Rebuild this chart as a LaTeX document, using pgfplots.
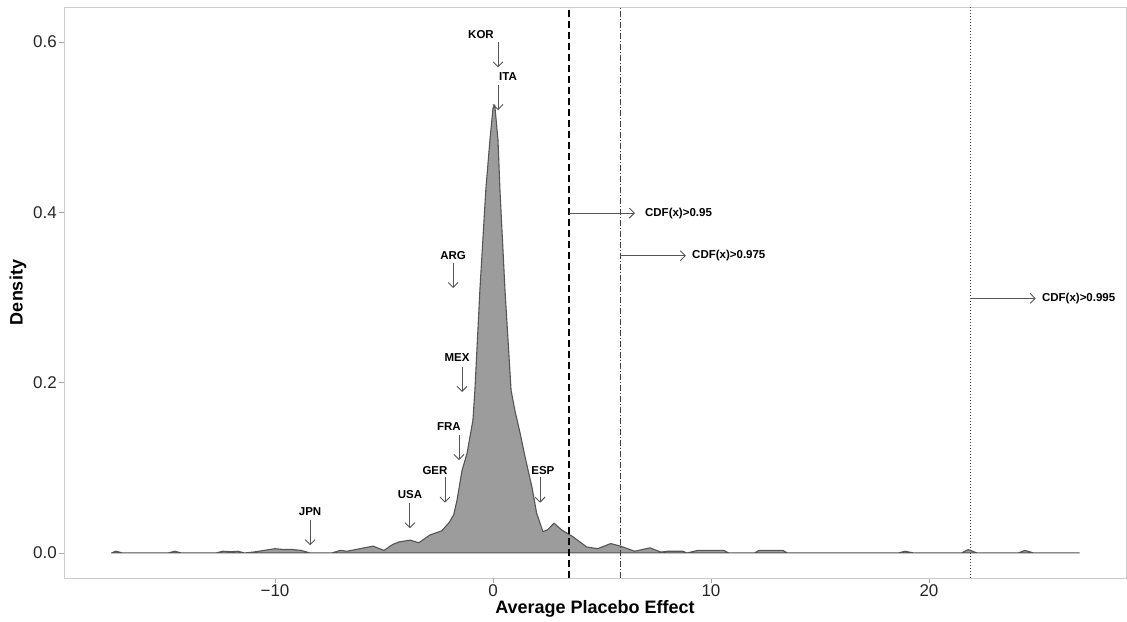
\documentclass[border=0pt]{standalone}
\usepackage{fontspec}
\setmainfont{Liberation Sans}
\usepackage{pgfplots}
\pgfplotsset{compat=1.18}
\usetikzlibrary{arrows.meta}
\definecolor{fillgray}{HTML}{9C9C9C}
\definecolor{linegray}{HTML}{555555}
\definecolor{framegray}{HTML}{CCCCCC}
\begin{document}
\begin{tikzpicture}
\begin{axis}[
  scale only axis, width=1062pt, height=571pt,
  xmin=-19.68, xmax=29.04, ymin=-0.0294, ymax=0.641,
  axis line style={draw=framegray, line width=0.8pt},
  xtick={-10,10,20}, xticklabels={{−10},{10},{20}},
  extra x ticks={0}, extra x tick labels={{0}},
  ytick={0,0.2,0.4,0.6}, yticklabels={{0.0},{0.2},{0.4},{0.6}},
  xtick pos=left, ytick pos=left,
  tick align=outside, major tick length=5pt,
  tick style={draw=black!35, line width=0.8pt},
  ticklabel style={font=\fontsize{17}{17}\selectfont, text=black!85, inner sep=0pt},
  xticklabel style={anchor=base, yshift=-14pt},
  yticklabel style={anchor=east, xshift=-2pt},
  extra x tick style={tick style={draw=black!35, line width=0.8pt}},
  xlabel={Average Placebo Effect}, ylabel={Density},
  label style={font=\fontsize{18}{18}\selectfont\bfseries, inner sep=0pt},
  xlabel style={at={(axis description cs:0.5,0)}, anchor=base, yshift=-36pt},
  ylabel style={at={(axis description cs:0,0.5)}, anchor=center, rotate=0, yshift=46pt},
  clip=false,
]
% density
\addplot[fill=fillgray, draw=linegray, line width=1.1pt, line join=round] coordinates {
(-17.5,0) (-17.3,0.002) (-17.0,0) (-14.9,0) (-14.6,0.002) (-14.3,0) (-12.7,0) (-12.4,0.002) (-12.0,0.0015) (-11.7,0.002) (-11.4,0) (-11.0,0.001) (-10.5,0.003) (-10.0,0.005) (-9.6,0.004) (-9.2,0.004) (-8.8,0.003) (-8.4,0) (-7.4,0) (-7.0,0.003) (-6.7,0.002) (-6.3,0.004) (-5.9,0.006) (-5.5,0.008) (-5.0,0.003) (-4.6,0.010) (-4.3,0.013) (-3.8,0.015) (-3.4,0.012) (-2.9,0.021) (-2.35,0.026) (-2.0,0.036) (-1.8,0.045) (-1.65,0.062) (-1.42,0.097) (-1.19,0.117) (-0.92,0.156) (-0.83,0.191) (-0.6,0.309) (-0.33,0.426) (-0.14,0.485) (0.0,0.522) (0.08,0.526) (0.23,0.485) (0.32,0.426) (0.55,0.309) (0.83,0.191) (1.0,0.168) (1.24,0.141) (1.47,0.113) (1.79,0.077) (2.0,0.047) (2.29,0.025) (2.5,0.027) (2.8,0.035) (3.15,0.027) (3.67,0.019) (4.3,0.007) (4.8,0.005) (5.4,0.011) (5.85,0.008) (6.5,0.002) (7.2,0.006) (7.7,0.001) (8.0,0.002) (8.7,0.002) (8.9,0) (9.4,0.003) (10.6,0.003) (10.8,0) (12.0,0) (12.2,0.003) (13.3,0.003) (13.5,0) (18.6,0) (18.9,0.002) (19.3,0) (21.5,0) (21.8,0.004) (22.2,0) (24.1,0) (24.4,0.003) (24.8,0) (26.9,0)
} \closedcycle;
% vertical lines
\addplot[black, line width=1.8pt, dash pattern=on 7pt off 4pt] coordinates {(3.5,-0.0294) (3.5,0.641)};
\addplot[black!75, line width=0.8pt, dash pattern=on 6pt off 2pt on 1pt off 2pt] coordinates {(5.83,-0.0294) (5.83,0.641)};
\addplot[black!75, line width=0.8pt, dash pattern=on 1pt off 2pt] coordinates {(21.88,-0.0294) (21.88,0.641)};
% arrows
\tikzset{arr/.style={linegray, line width=0.9pt, -{Straight Barb[length=5pt,width=10pt]}},
         lab/.style={font=\fontsize{11.5}{11.5}\selectfont\bfseries, inner sep=0pt}}
\draw[arr] (axis cs:0.23,0.600) -- (axis cs:0.23,0.570);
\draw[arr] (axis cs:0.23,0.549) -- (axis cs:0.23,0.520);
\draw[arr] (axis cs:-1.83,0.340) -- (axis cs:-1.83,0.311);
\draw[arr] (axis cs:-1.42,0.218) -- (axis cs:-1.42,0.189);
\draw[arr] (axis cs:-1.56,0.139) -- (axis cs:-1.56,0.109);
\draw[arr] (axis cs:-2.20,0.089) -- (axis cs:-2.20,0.059);
\draw[arr] (axis cs:-3.81,0.059) -- (axis cs:-3.81,0.029);
\draw[arr] (axis cs:-8.39,0.039) -- (axis cs:-8.39,0.009);
\draw[arr] (axis cs:2.16,0.089) -- (axis cs:2.16,0.059);
\node[lab] at (axis cs:-0.55,0.609) {KOR};
\node[lab] at (axis cs:0.69,0.559) {ITA};
\node[lab] at (axis cs:-1.83,0.349) {ARG};
\node[lab] at (axis cs:-1.65,0.229) {MEX};
\node[lab] at (axis cs:-2.02,0.148) {FRA};
\node[lab] at (axis cs:-2.66,0.097) {GER};
\node[lab] at (axis cs:-3.81,0.069) {USA};
\node[lab] at (axis cs:-8.39,0.049) {JPN};
\node[lab] at (axis cs:2.29,0.097) {ESP};
% CDF arrows
\draw[arr] (axis cs:3.5,0.399) -- (axis cs:6.51,0.399);
\draw[arr] (axis cs:5.83,0.349) -- (axis cs:8.85,0.349);
\draw[arr] (axis cs:21.88,0.299) -- (axis cs:24.9,0.299);
\node[lab, anchor=west] at (axis cs:6.97,0.399) {CDF(x)>0.95};
\node[lab, anchor=west] at (axis cs:9.13,0.349) {CDF(x)>0.975};
\node[lab, anchor=west] at (axis cs:25.18,0.299) {CDF(x)>0.995};
\end{axis}
\pgfresetboundingbox
\path ([shift={(-64pt,-44pt)}]current axis.south west) rectangle ([shift={(1pt,7pt)}]current axis.north east);
\end{tikzpicture}
\end{document}
